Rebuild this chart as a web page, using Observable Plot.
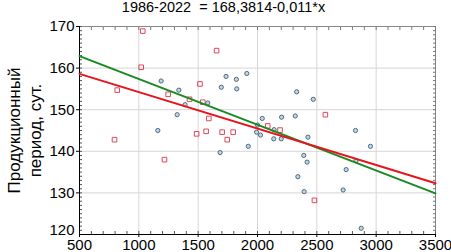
<!DOCTYPE html>
<html><head><meta charset="utf-8">
<script src="https://cdn.jsdelivr.net/npm/d3@7"></script>
<script src="https://cdn.jsdelivr.net/npm/@observablehq/plot@0.6"></script>
<style>body{margin:0;background:#fff} svg{display:block}</style>
</head><body><div id="chart"></div>
<script>
const titleText = "1986-2022  = 168,3814-0,011*x";
const yLabel = "Продукционный\nпериод, сут.";
const xTicks = [500, 1000, 1500, 2000, 2500, 3000, 3500];
const yTicks = [120, 130, 140, 150, 160, 170];

// red squares
const redX = [1033, 1020, 818, 1655, 1515, 1247, 1427, 1539, 1590, 1487, 1567, 1702, 1795, 1745, 795, 1216, 2086, 2190, 2572, 2480];
const redY = [168.9, 160.2, 154.7, 164.2, 156.2, 153.7, 152.5, 151.8, 147.9, 144.2, 144.8, 144.6, 144.6, 142.8, 142.8, 138.0, 146.1, 145.1, 148.8, 128.2];
// blue circles
const blueX = [1188, 1337, 1390, 1323, 1160, 1735, 1695, 1822, 1825, 1910, 1581, 1685, 2330, 2470, 2040, 2203, 2318, 2826, 2140, 2000, 1992, 2025, 2137, 2200, 2425, 1922, 2390, 2418, 2340, 2393, 2952, 2747, 2722, 2874, 2830];
const blueY = [156.9, 154.7, 151.2, 148.8, 145.0, 158.0, 155.4, 157.3, 155.0, 158.7, 151.6, 139.7, 154.3, 152.5, 147.9, 148.2, 148.5, 145.0, 145.2, 146.3, 144.6, 143.9, 143.0, 143.0, 143.4, 141.2, 139.0, 137.4, 133.9, 130.3, 141.2, 135.6, 130.7, 121.5, 137.7];

// regression fits
const fitNames = ["green", "red"];
const fitIntercepts = [168.3814, 163.0];
const fitSlopes = [-0.011, -0.00877];
const fitColors = ["#178a20", "#e8141c"];

const xDomain = [xTicks[0], xTicks[xTicks.length - 1]];
const yDomain = [yTicks[0], yTicks[yTicks.length - 1]];
const xMinor = d3.range(xDomain[0], xDomain[1] + 1, 100);
const yMinor = d3.range(yDomain[0], yDomain[1] + 0.5, 1);

const red = redX.map((x, i) => ({x, y: redY[i]}));
const blue = blueX.map((x, i) => ({x, y: blueY[i]}));
const fits = fitNames.map((name, i) => xDomain.map(x => ({name, x, y: fitIntercepts[i] + fitSlopes[i] * x})));

const minor = {tickSize: -3, tickFormat: () => "", label: null, text: null};
const yAxisOpts = {anchor: "left", tickSize: 3, tickPadding: 2, label: null, tickFormat: d => String(d)};

const plot = Plot.plot({
  width: 451, height: 252,
  marginLeft: 79, marginRight: 16, marginTop: 26, marginBottom: 18,
  style: {fontFamily: "'Liberation Sans', Arial, sans-serif", fontSize: "15px", background: "#fff", color: "#000"},
  x: {domain: xDomain},
  y: {domain: yDomain},
  marks: [
    Plot.gridX(xTicks, {stroke: "#d6d6d6", strokeOpacity: 1}),
    Plot.gridY(yTicks, {stroke: "#d6d6d6", strokeOpacity: 1}),
    Plot.frame({stroke: "#888"}),
    Plot.axisX(xMinor, {anchor: "bottom", ...minor, stroke: "#555"}),
    Plot.axisX(xMinor, {anchor: "top", ...minor, stroke: "#777"}),
    Plot.axisY(yMinor, {anchor: "left", ...minor, stroke: "#555"}),
    Plot.axisY(yMinor, {anchor: "right", ...minor, stroke: "#777"}),
    Plot.axisX(xTicks, {anchor: "bottom", tickSize: 3, tickPadding: 2, label: null, tickFormat: d => String(d)}),
    Plot.axisY(yTicks.slice(1), yAxisOpts),
    Plot.axisY(yTicks.slice(0, 1), {...yAxisOpts, tickSize: 0, tickPadding: 5, dy: -4}),
    Plot.ruleX([xDomain[0]], {stroke: "#000"}),
    Plot.ruleY([yDomain[0]], {stroke: "#000"}),
    Plot.dot(red, {x: "x", y: "y", symbol: "square", r: 2.6, stroke: "#e0485a", fill: "none", strokeWidth: 1}),
    Plot.dot(blue, {x: "x", y: "y", r: 2.1, stroke: "#4a6a82", fill: "#c4d6e4", strokeWidth: 1}),
    ...fits.map((f, i) => Plot.line(f, {x: "x", y: "y", stroke: fitColors[i], strokeWidth: 2})),
    Plot.text([titleText], {frameAnchor: "top", dx: -34, dy: -15, lineAnchor: "bottom", fontSize: 14.5}),
    Plot.text([yLabel], {frameAnchor: "left", rotate: -90, dx: -56, fontSize: 17, lineHeight: 1.25, lineAnchor: "middle", textAnchor: "middle"})
  ]
});
document.getElementById("chart").appendChild(plot);
</script></body></html>
